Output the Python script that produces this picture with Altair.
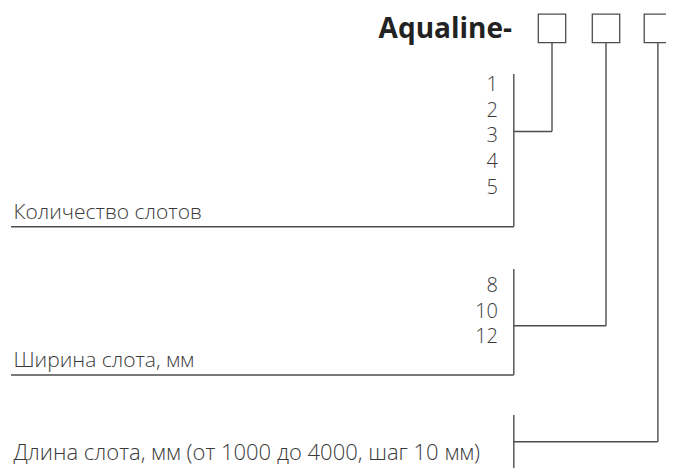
import altair as alt
import pandas as pd

title_text = "Aqualine-"
slot_counts = ["1", "2", "3", "4", "5"]
slot_widths = ["8", "10", "12"]
captions = ["Количество слотов", "Ширина слота, мм", "Длина слота, мм (от 1000 до 4000, шаг 10 мм)"]

# layout (pixel coordinates of the page)
X0, X1 = 8, 666
Y0, Y1 = 8, 468
BOX_X = [538.3, 592.3, 644.2]
BOX_W, BOX_TOP, BOX_BOT = 27.4, 14.2, 42.7
BRK_X = 513.8
LINE_COLOR = "#4d4d4d"
TEXT_COLOR = "#3a3a3a"
FONT = "Open Sans"
CAP_SIZES = [21, 21, 22]

xs = alt.Scale(domain=[X0, X1], nice=False, zero=False)
ys = alt.Scale(domain=[Y0, Y1], nice=False, zero=False, reverse=True)

boxes = pd.DataFrame({"x": BOX_X, "x2": [b + BOX_W for b in BOX_X],
                      "y": [BOX_TOP] * 3, "y2": [BOX_BOT] * 3})
centers = [b + BOX_W / 2 for b in BOX_X]

segs = []
# group 1
segs += [(BRK_X, BRK_X, 74, 226.7), (11, BRK_X, 226.7, 226.7), (BRK_X, centers[0], 131.5, 131.5), (centers[0], centers[0], BOX_BOT, 131.5)]
# group 2
segs += [(BRK_X, BRK_X, 269, 375), (11, BRK_X, 375, 375), (BRK_X, centers[1], 325.7, 325.7), (centers[1], centers[1], BOX_BOT, 325.7)]
# group 3
segs += [(BRK_X, BRK_X, 415, 470), (BRK_X, centers[2], 441.7, 441.7), (centers[2], centers[2], BOX_BOT, 441.7)]
lines = pd.DataFrame(segs, columns=["x", "x2", "y", "y2"])

num_rows = []
for i, s in enumerate(slot_counts):
    num_rows.append({"t": s, "x": 498, "y": 91 + i * 25.7})
for i, s in enumerate(slot_widths):
    num_rows.append({"t": s, "x": 498, "y": 291.7 + i * 25.8})
nums = pd.DataFrame(num_rows)

caps = pd.DataFrame({"t": captions, "x": [13.5, 13.5, 13.5], "y": [219, 367.3, 459.5], "fs": CAP_SIZES})
ttl = pd.DataFrame({"t": [title_text], "x": [512], "y": [38]})

X = lambda f="x": alt.X(f, type="quantitative", scale=xs, axis=None)
Y = lambda f="y": alt.Y(f, type="quantitative", scale=ys, axis=None)

rule_layer = alt.Chart(lines).mark_rule(color=LINE_COLOR, strokeWidth=1.4).encode(
    x=X(), x2="x2", y=Y(), y2="y2")
box_layer = alt.Chart(boxes).mark_rect(fill="white", stroke=LINE_COLOR, strokeWidth=1.3).encode(
    x=X(), x2="x2", y=Y(), y2="y2")
num_layer = alt.Chart(nums).mark_text(align="right", baseline="alphabetic", font=FONT, fontWeight=300,
                                      fontSize=20, color=TEXT_COLOR).encode(x=X(), y=Y(), text="t")
cap_layer = alt.Chart(caps).mark_text(align="left", baseline="alphabetic", font=FONT, fontWeight=300,
                                      color=TEXT_COLOR).encode(
    x=X(), y=Y(), text="t", size=alt.Size("fs", type="quantitative", scale=None, legend=None))
ttl_layer = alt.Chart(ttl).mark_text(align="right", baseline="alphabetic", font="Open Sans", fontWeight="bold",
                                     fontSize=28, color="#222222").encode(x=X(), y=Y(), text="t")

chart = alt.layer(rule_layer, box_layer, num_layer, cap_layer, ttl_layer).properties(
    width=X1 - X0, height=Y1 - Y0, padding=0, autosize="none", background="white"
).configure_view(strokeWidth=0)

chart.save("out.html", embed_options={"renderer": "svg", "actions": False})
